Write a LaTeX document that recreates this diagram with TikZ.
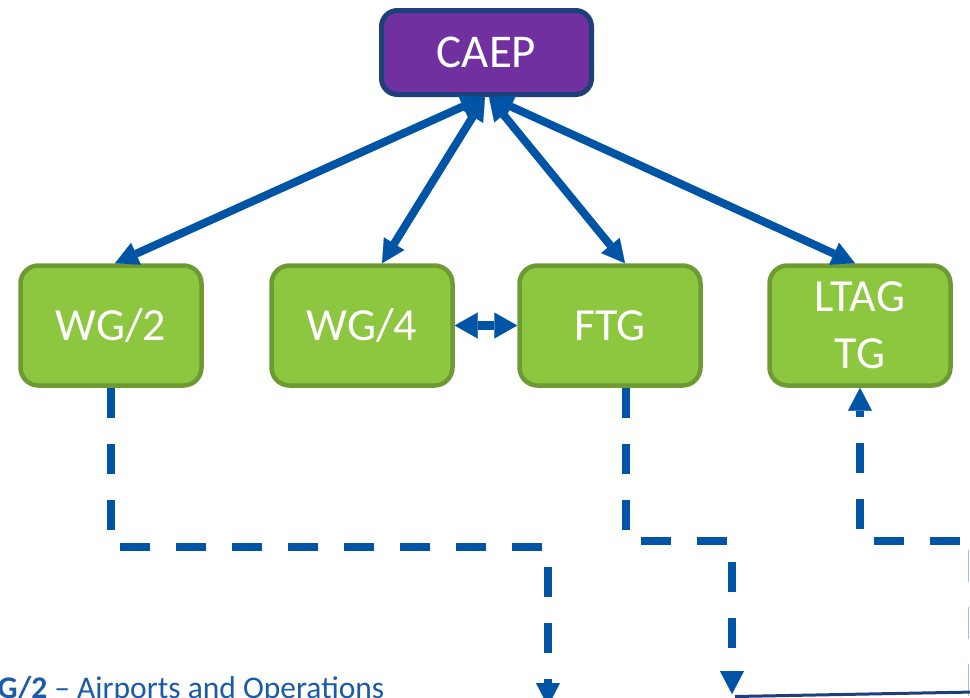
\documentclass[tikz,border=0pt]{standalone}
\usepackage{fontspec}
\setmainfont{Carlito}
\usetikzlibrary{arrows.meta}
\definecolor{caepfill}{HTML}{7030A0}
\definecolor{caepline}{HTML}{1F3F7A}
\definecolor{grfill}{HTML}{8DC63F}
\definecolor{grline}{HTML}{6E9A34}
\definecolor{arblue}{HTML}{0054A6}
\definecolor{txtblue}{HTML}{1A5AA8}
\definecolor{edgelight}{HTML}{A9BDD8}
\begin{document}
\begin{tikzpicture}[x=1pt,y=-1pt,
  grbox/.style={rectangle, rounded corners=18pt, line width=4.5pt, draw=grline, fill=grfill,
    minimum width=181pt, minimum height=120pt, text=white,
    font=\fontsize{46}{57}\selectfont, align=center, inner sep=0pt},
  caepbox/.style={rectangle, rounded corners=16pt, line width=5pt, draw=caepline, fill=caepfill,
    minimum width=210pt, minimum height=84pt, text=white,
    font=\fontsize{47}{57}\selectfont, inner sep=0pt},
  tipbig/.tip={Triangle[length=23pt,width=24pt,line width=0.1pt]},
  solidarrow/.style={line width=8pt, draw=arblue, tipbig-tipbig},
  dasharrow/.style={line width=7.5pt, draw=arblue, dash pattern=on 30pt off 26pt, -tipbig},
  note/.style={text=txtblue, font=\fontsize{31.5}{36}\selectfont, inner sep=0pt, anchor=base west}
]
\useasboundingbox (0,0) rectangle (970,697);
\clip (0,0) rectangle (970,697);

% nodes
\node[caepbox] (caep) at (486.5,52.5) {CAEP};
\node[grbox] (wg2) at (111,325.5) {WG/2};
\node[grbox] (wg4) at (362,325.5) {WG/4};
\node[grbox] (ftg) at (610,325.5) {FTG};
\node[grbox] (ltag) at (860,325.5) {LTAG\\TG};

% solid two-way arrows from CAEP
\draw[solidarrow] ([xshift=-2.5pt]caep.south) -- ([xshift=4pt]wg2.north);
\draw[solidarrow] ([xshift=-1.5pt]caep.south) -- ([xshift=20pt]wg4.north);
\draw[solidarrow] ([xshift=2.5pt]caep.south) -- ([xshift=15pt]ftg.north);
\draw[solidarrow] ([xshift=3.5pt]caep.south) -- ([xshift=-5pt]ltag.north);

% WG/4 <-> FTG
\draw[line width=9.5pt, draw=arblue, {Triangle[length=23pt,width=26pt,line width=0.1pt]}-{Triangle[length=23pt,width=26pt,line width=0.1pt]}] (wg4.east) -- (ftg.west);

% dashed connectors
\coordinate (k1) at (548,547);
\coordinate (e1) at (548,706);
\draw[dasharrow] (wg2.south) |- (k1) -- (e1);

\coordinate (k2) at (732,541);
\coordinate (e2) at (732,694);
\draw[dasharrow] ([xshift=16pt]ftg.south) |- (k2) -- (e2);

\coordinate (s3) at (1016,541);
\draw[dasharrow] (s3) -| (ltag.south);

% fragments of a box cut by the edge
\draw[edgelight, line width=1.5pt, dash pattern=on 32pt off 25pt] (968.5,550) -- (968.5,697);
\draw[caepline, line width=3pt] (735,696.5) -- (975,692);

% caption cut by the edge
\node[note] (cap) at (-2.5,698) {\textbf{G/2} – Airports and Operations};
\end{tikzpicture}
\end{document}
